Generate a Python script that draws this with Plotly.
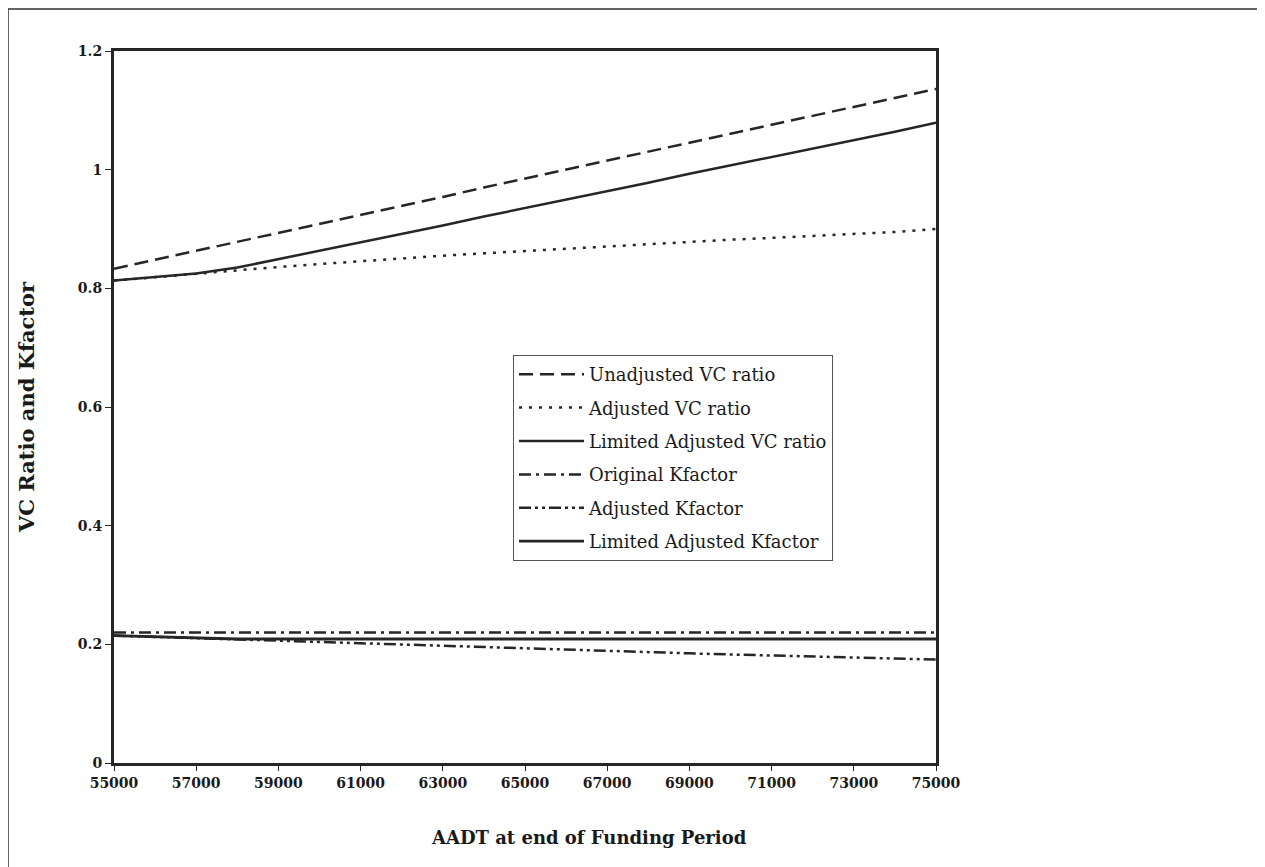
import plotly.graph_objects as go

aadt = [55000, 56000, 57000, 58000, 59000, 60000, 61000, 62000, 63000, 64000, 65000,
        66000, 67000, 68000, 69000, 70000, 71000, 72000, 73000, 74000, 75000]
unadjusted_vc = [0.833, 0.848, 0.864, 0.879, 0.894, 0.909, 0.924, 0.939, 0.954, 0.970, 0.985,
                 1.000, 1.015, 1.030, 1.045, 1.061, 1.076, 1.091, 1.106, 1.121, 1.136]
adjusted_vc = [0.813, 0.819, 0.825, 0.831, 0.836, 0.841, 0.846, 0.851, 0.855, 0.859, 0.863,
               0.867, 0.871, 0.875, 0.878, 0.882, 0.885, 0.888, 0.892, 0.895, 0.900]
limited_vc = [0.813, 0.819, 0.825, 0.835, 0.849, 0.864, 0.878, 0.892, 0.906, 0.921, 0.935,
              0.950, 0.964, 0.978, 0.993, 1.007, 1.021, 1.036, 1.050, 1.064, 1.079]
original_k = [0.22] * 21
adjusted_k = [0.2147, 0.2125, 0.2101, 0.2080, 0.2057, 0.2035, 0.2014, 0.1994, 0.1972, 0.1948, 0.1927,
              0.1907, 0.1888, 0.1869, 0.1848, 0.1829, 0.1810, 0.1791, 0.1774, 0.1756, 0.1743]
limited_k = [0.2147, 0.2125, 0.2101, 0.209, 0.209, 0.209, 0.209, 0.209, 0.209, 0.209, 0.209,
             0.209, 0.209, 0.209, 0.209, 0.209, 0.209, 0.209, 0.209, 0.209, 0.209]

x_ticks = list(range(55000, 75001, 2000))
y_ticks = [0, 0.2, 0.4, 0.6, 0.8, 1, 1.2]

INK = "#262626"
FONT = "DejaVu Serif"

series = [
    ("Unadjusted VC ratio", unadjusted_vc, "14px,7px", 2.5),
    ("Adjusted VC ratio", adjusted_vc, "3px,7px", 2.5),
    ("Limited Adjusted VC ratio", limited_vc, "solid", 2.5),
    ("Original Kfactor", original_k, "12px,5px,3px,5px", 2.5),
    ("Adjusted Kfactor", adjusted_k, "12px,4px,3px,4px,3px,4px", 2.5),
    ("Limited Adjusted Kfactor", limited_k, "solid", 2.8),
]

fig = go.Figure()
for i, (name, ys, dash, w) in enumerate(series):
    fig.add_trace(go.Scatter(x=aadt, y=ys, mode="lines", name=name,
                             legendgroup=f"g{i}",
                             line=dict(color=INK, width=w, dash=dash)))

W, H = 1265, 867
L, T = 106, 43
pw, ph = 822, 712
R = W - L - pw
B = H - T - ph

def px(xp):
    return (xp - L) / pw

def py(yp):
    return (T + ph - yp) / ph

fig.add_shape(type="rect", xref="paper", yref="paper",
              x0=px(0), x1=px(1268), y0=py(870), y1=py(1),
              line=dict(color="#333333", width=1.5), layer="below")

fig.add_annotation(text="<b>AADT at end of Funding Period</b>",
                   xref="paper", yref="paper", x=px(581), y=py(829),
                   xanchor="center", yanchor="middle", showarrow=False,
                   font=dict(family=FONT, size=18, color="#1a1a1a"))

fig.update_layout(
    width=W, height=H,
    margin=dict(l=L, r=R, t=T, b=B),
    paper_bgcolor="white", plot_bgcolor="white",
    font=dict(family=FONT, color="#1a1a1a", size=15),
    showlegend=True,
    legend=dict(x=px(505), y=py(347), xanchor="left", yanchor="top",
                bordercolor="#555555", borderwidth=1, bgcolor="white",
                font=dict(family=FONT, size=18, color="#1a1a1a"),
                tracegroupgap=7, itemwidth=65),
    xaxis=dict(range=[55000, 75000], tickvals=x_ticks, tickformat="d",
               showgrid=False, zeroline=False, showline=True, mirror=True,
               linecolor=INK, linewidth=3, ticks="outside", ticklen=5,
               tickcolor=INK, tickwidth=1,
               tickfont=dict(family=FONT, size=14, weight="bold")),
    yaxis=dict(range=[0, 1.2], tickvals=y_ticks,
               showgrid=False, zeroline=False, showline=True, mirror=True,
               linecolor=INK, linewidth=3, ticks="outside", ticklen=6,
               tickcolor=INK, tickwidth=1,
               tickfont=dict(family=FONT, size=14, weight="bold"),
               title=dict(text="<b>VC Ratio and Kfactor</b>",
                          font=dict(family=FONT, size=21), standoff=38)),
)

fig.write_html("out.html")
